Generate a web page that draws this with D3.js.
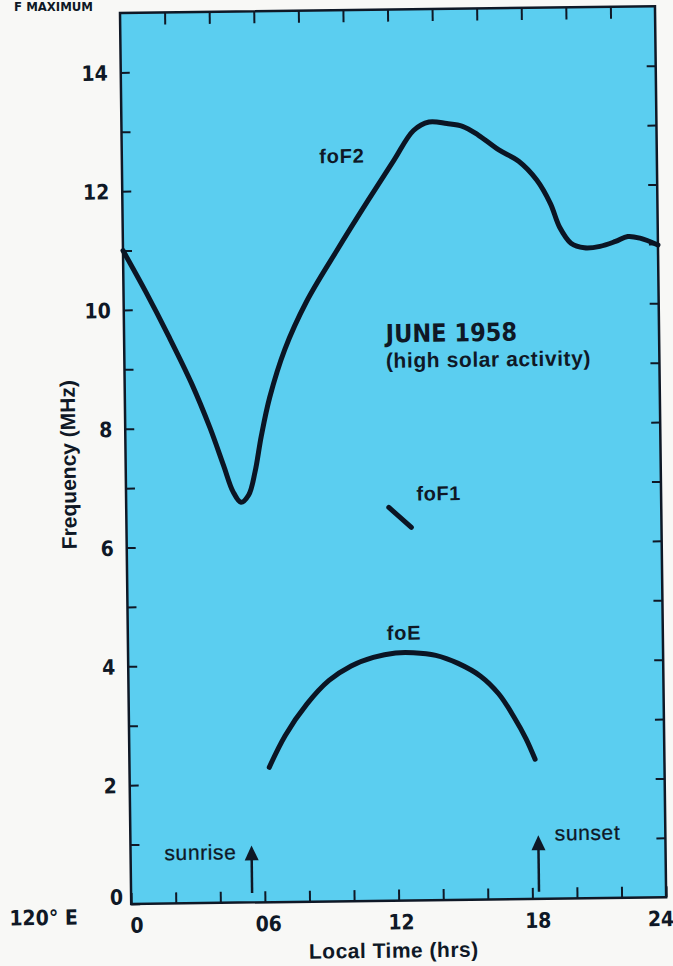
<!DOCTYPE html>
<html lang="en">
<head>
    <meta charset="UTF-8">
    <title>foF2 / foF1 / foE - June 1958</title>
    <script src="https://d3js.org/d3.v7.min.js"></script>
    <style>
        body {
            margin: 0;
            background: #f8f8f6;
        }

        svg {
            display: block;
        }

        .narrow {
            font-family: "Liberation Sans Narrow", "DejaVu Sans Condensed", sans-serif;
            font-stretch: condensed;
            font-weight: bold;
            fill: #0f1826;
        }

        .label {
            font-family: "Liberation Sans", Arial, sans-serif;
            fill: #0f1826;
        }

        .axis line {
            stroke: #0f1826;
            stroke-width: 2px;
        }

        .axis path {
            display: none;
        }

        .curve {
            fill: none;
            stroke: #0b1524;
            stroke-width: 5px;
            stroke-linecap: round;
            stroke-linejoin: round;
        }
    </style>
</head>
<body>
    <svg width="673" height="966"></svg>

    <script>
        // foF2 (MHz) by local time (hrs)
        const f2Hours = [0, 1, 2, 3, 3.8, 4.4, 4.8, 5.15, 5.5, 5.8, 6.1, 6.5, 7.2, 8.2, 9.6, 11.0,
            12.2, 13.1, 13.8, 14.6, 15.3, 16.0, 16.9, 17.8, 18.6, 19.2, 19.6, 20.1, 20.7, 21.4, 22.1, 22.65, 23.2, 24];
        const f2Values = [11.0, 10.3, 9.55, 8.75, 8.0, 7.35, 6.92, 6.74, 6.86, 7.25, 7.85, 8.5, 9.3, 10.1, 10.96, 11.78,
            12.46, 12.96, 13.1, 13.07, 13.02, 12.87, 12.62, 12.42, 12.1, 11.7, 11.3, 11.03, 10.95, 10.97, 11.05, 11.13, 11.1, 10.98];

        // foF1, only a short piece around noon
        const f1Hours = [11.78, 12.78];
        const f1Values = [6.62, 6.28];

        // foE, daytime only
        const eHours = [6.27, 7.0, 8.0, 9.0, 10.0, 11.0, 12.0, 12.8, 13.8, 14.8, 15.8, 16.6, 17.3, 17.8, 18.2];
        const eValues = [2.27, 2.8, 3.33, 3.72, 3.96, 4.1, 4.17, 4.17, 4.12, 3.98, 3.76, 3.46, 3.05, 2.7, 2.35];

        // sunrise / sunset arrows: hour, bottom and tip (MHz)
        const sunEvents = ["sunrise", "sunset"];
        const sunHours = [5.43, 18.3];
        const sunFrom = [0.16, 0.12];
        const sunTo = [0.96, 1.07];

        const yTickLabels = [0, 2, 4, 6, 8, 10, 12, 14];
        const xTickLabels = ["0", "06", "12", "18", "24"];

        const svg = d3.select("svg");
        const width = 535, height = 891;

        svg.append("rect")
            .attr("width", 673).attr("height", 966)
            .attr("fill", "#f8f8f6");

        // the scanned figure sits a little crooked
        const g = svg.append("g")
            .attr("transform", "translate(120,13) rotate(-0.72)");

        const x = d3.scaleLinear().domain([0, 24]).range([0, width]);
        const y = d3.scaleLinear().domain([0, 15]).range([height, 0]);

        g.append("rect")
            .attr("width", width)
            .attr("height", height)
            .attr("fill", "#5bcef0")
            .attr("stroke", "#0f1826")
            .attr("stroke-width", 2.5);

        // ticks on all four sides, pointing inwards
        g.append("g").attr("class", "axis narrow")
            .call(d3.axisLeft(y).tickValues(d3.range(0, 15)).tickSize(-9).tickPadding(13)
                .tickFormat(d => yTickLabels.includes(d) ? d : ""))
            .call(a => a.selectAll("text").attr("font-size", 21).attr("fill", "#0f1826")
                .attr("font-family", null).attr("dy", "0.36em"))
            .call(a => a.selectAll(".tick").filter(d => d === 0).select("text")
                .attr("dx", 5).attr("dy", "0.0em"));

        g.append("g").attr("class", "axis")
            .attr("transform", `translate(${width},0)`)
            .call(d3.axisRight(y).tickValues(d3.range(1, 15)).tickSize(-9).tickFormat(""));

        // hand-lettered labels sit a little off their ticks
        const xLabelShift = { 0: 5, 6: 3, 12: 2, 18: 5, 24: -6 };
        g.append("g").attr("class", "axis narrow")
            .attr("transform", `translate(0,${height})`)
            .call(d3.axisBottom(x).tickValues(d3.range(0, 25, 2)).tickSize(-11).tickPadding(14)
                .tickFormat(d => d % 6 === 0 ? xTickLabels[d / 6] : ""))
            .call(a => a.selectAll("text").attr("font-size", 21).attr("fill", "#0f1826")
                .attr("font-family", null).attr("dx", d => xLabelShift[d] || 0));

        g.append("g").attr("class", "axis")
            .call(d3.axisTop(x).tickValues(d3.range(2, 24, 2)).tickSize(-12).tickFormat(""));

        const line = d3.line()
            .x(d => x(d[0]))
            .y(d => y(d[1]))
            .curve(d3.curveCatmullRom.alpha(0.5));

        g.append("path").attr("class", "curve")
            .attr("d", line(d3.zip(f2Hours, f2Values)));
        g.append("path").attr("class", "curve")
            .attr("d", line(d3.zip(f1Hours, f1Values)));
        g.append("path").attr("class", "curve")
            .attr("d", line(d3.zip(eHours, eValues)));

        // arrows for sunrise and sunset
        sunEvents.forEach((name, i) => {
            const ax = x(sunHours[i]), y0 = y(sunFrom[i]), y1 = y(sunTo[i]);
            g.append("line")
                .attr("x1", ax).attr("x2", ax)
                .attr("y1", y0).attr("y2", y1 + 12)
                .attr("stroke", "#0f1826").attr("stroke-width", 2.5);
            g.append("path")
                .attr("d", `M${ax},${y1} L${ax - 7},${y1 + 15} L${ax + 7},${y1 + 15} Z`)
                .attr("fill", "#0f1826");
        });

        // annotations, placed in data units
        const note = (text, h, v, cls, size, extra) => {
            const t = g.append("text").attr("class", cls)
                .attr("x", x(h)).attr("y", y(v))
                .attr("font-size", size)
                .text(text);
            if (extra) extra(t);
            return t;
        };

        note("foF2", 8.85, 12.43, "label", 20, t => t.attr("font-weight", "bold").attr("letter-spacing", 0.8));
        note("foF1", 13.03, 6.73, "label", 20, t => t.attr("font-weight", "bold").attr("letter-spacing", 0.5));
        note("foE", 11.61, 4.39, "label", 20, t => t.attr("font-weight", "bold").attr("letter-spacing", 0.8));
        note("JUNE 1958", 11.74, 9.4, "narrow", 25);
        note("(high solar activity)", 11.73, 8.97, "label", 21, t => t.attr("font-weight", "bold").attr("letter-spacing", 0.6));
        note("sunrise", 1.52, 0.73, "label", 21, t => t.attr("letter-spacing", 0.6).attr("stroke", "#0f1826").attr("stroke-width", 0.3));
        note("sunset", 19.04, 0.98, "label", 21, t => t.attr("letter-spacing", 0.6).attr("stroke", "#0f1826").attr("stroke-width", 0.3));

        // axis titles
        g.append("text").attr("class", "label")
            .attr("x", 262).attr("y", 948)
            .attr("text-anchor", "middle")
            .attr("font-size", 21).attr("font-weight", "bold")
            .attr("letter-spacing", 0.5)
            .text("Local Time (hrs)");

        g.append("text").attr("class", "label")
            .attr("transform", "translate(-50,451) rotate(-90)")
            .attr("text-anchor", "middle")
            .attr("font-size", 21).attr("font-weight", "bold")
            .text("Frequency (MHz)");

        g.append("text").attr("class", "narrow")
            .attr("x", -122).attr("y", 911)
            .attr("font-size", 21)
            .text("120° E");

        // heading from the page above, cut off in the scan
        svg.append("text").attr("class", "narrow")
            .attr("x", 93).attr("y", 11)
            .attr("text-anchor", "end")
            .attr("font-size", 13)
            .text("F MAXIMUM");
    </script>
</body>
</html>
